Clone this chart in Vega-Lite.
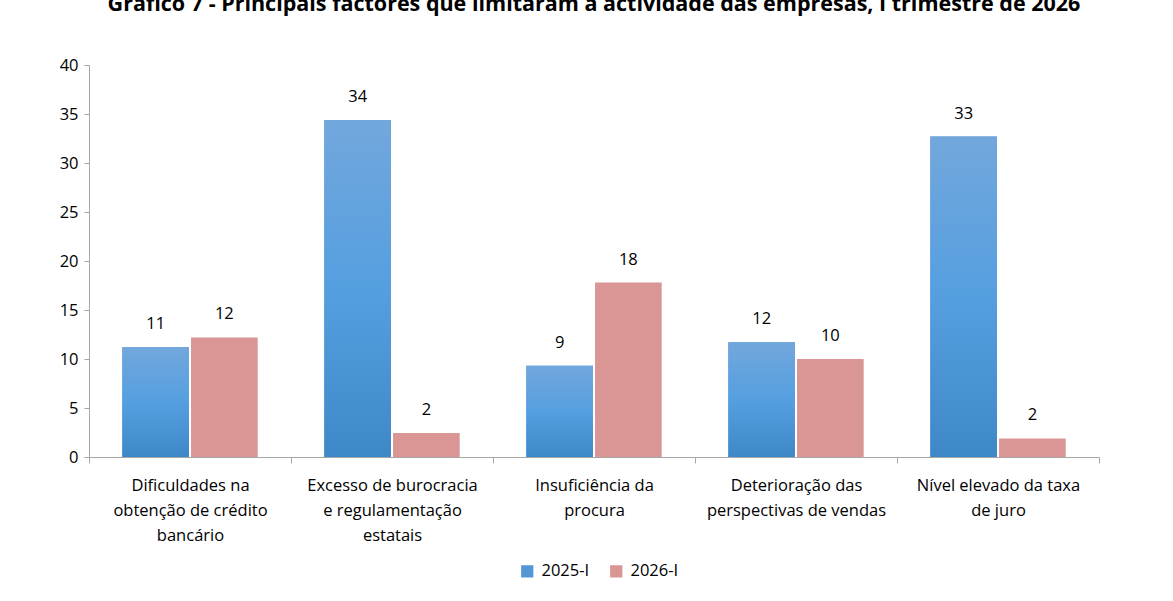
{
  "$schema": "https://vega.github.io/schema/vega-lite/v6.json",
  "autosize": {"type": "none"},
  "width": 1010,
  "height": 392,
  "padding": {"left": 89, "top": 65, "right": 74, "bottom": 144},
  "background": "white",
  "title": {
    "text": "Gráfico 7 - Principais factores que limitaram a actividade das empresas, I trimestre de 2026",
    "font": "Open Sans",
    "fontSize": 21.5,
    "fontWeight": "bold",
    "color": "#000000",
    "anchor": "middle",
    "frame": "group",
    "baseline": "alphabetic",
    "offset": 40,
    "dy": 15
  },
  "data": {
    "values": [
      {"cat": "Dificuldades na obtenção de crédito bancário", "series": "2025-I", "value": 11.2},
      {"cat": "Dificuldades na obtenção de crédito bancário", "series": "2026-I", "value": 12.2},
      {"cat": "Excesso de burocracia e regulamentação estatais", "series": "2025-I", "value": 34.4},
      {"cat": "Excesso de burocracia e regulamentação estatais", "series": "2026-I", "value": 2.45},
      {"cat": "Insuficiência da procura", "series": "2025-I", "value": 9.3},
      {"cat": "Insuficiência da procura", "series": "2026-I", "value": 17.8},
      {"cat": "Deterioração das perspectivas de vendas", "series": "2025-I", "value": 11.7},
      {"cat": "Deterioração das perspectivas de vendas", "series": "2026-I", "value": 10.0},
      {"cat": "Nível elevado da taxa de juro", "series": "2025-I", "value": 32.7},
      {"cat": "Nível elevado da taxa de juro", "series": "2026-I", "value": 1.9}
    ]
  },
  "encoding": {
    "x": {
      "field": "cat",
      "type": "nominal",
      "sort": null,
      "scale": {"paddingInner": 0, "paddingOuter": 0},
      "axis": {
        "title": null,
        "labelAngle": 0,
        "labelFont": "Open Sans",
        "labelFontSize": 16.5,
        "labelColor": "#000000",
        "labelLineHeight": 25,
        "labelPadding": 14,
        "labelLimit": 0,
        "labelBaseline": "top",
        "labelExpr": "{'Dificuldades na obtenção de crédito bancário': ['Dificuldades na', 'obtenção de crédito', 'bancário'], 'Excesso de burocracia e regulamentação estatais': ['Excesso de burocracia', 'e regulamentação', 'estatais'], 'Insuficiência da procura': ['Insuficiência da', 'procura'], 'Deterioração das perspectivas de vendas': ['Deterioração das', 'perspectivas de vendas'], 'Nível elevado da taxa de juro': ['Nível elevado da taxa', 'de juro']}[datum.value]",
        "tickBand": "extent",
        "tickSize": 6,
        "tickColor": "#a6a6a6",
        "domainColor": "#a6a6a6",
        "grid": false
      }
    },
    "xOffset": {
      "field": "series",
      "type": "nominal",
      "scale": {"paddingOuter": 0.485, "paddingInner": 0.03}
    },
    "y": {
      "field": "value",
      "type": "quantitative",
      "scale": {"domain": [0, 40], "nice": false},
      "axis": {
        "title": null,
        "values": [0, 5, 10, 15, 20, 25, 30, 35, 40],
        "labelFont": "Open Sans",
        "labelFontSize": 16.5,
        "labelColor": "#000000",
        "labelPadding": 6,
        "tickSize": 5,
        "tickColor": "#a6a6a6",
        "domainColor": "#a6a6a6",
        "grid": false
      }
    }
  },
  "layer": [
    {
      "mark": {"type": "bar"},
      "encoding": {
        "color": {
          "field": "series",
          "type": "nominal",
          "scale": {"domain": ["2025-I", "2026-I"], "range": ["#5596d6", "#d99694"]},
          "legend": {
            "title": null,
            "orient": "none",
            "direction": "horizontal",
            "legendX": 430,
            "legendY": 498,
            "symbolType": "square",
            "symbolSize": 150,
            "symbolStrokeWidth": 0,
            "labelFont": "Open Sans",
            "labelFontSize": 16.5,
            "labelColor": "#000000",
            "columnPadding": 18,
            "labelOffset": 6
          }
        }
      }
    },
    {
      "transform": [{"filter": "datum.series == '2025-I'"}],
      "mark": {
        "type": "bar",
        "color": {
          "gradient": "linear",
          "x1": 0, "y1": 0, "x2": 0, "y2": 1,
          "stops": [
            {"offset": 0, "color": "#72a7dc"},
            {"offset": 0.5, "color": "#559fe0"},
            {"offset": 1, "color": "#3f88c8"}
          ]
        }
      }
    },
    {
      "mark": {
        "type": "text",
        "dy": -23,
        "baseline": "middle",
        "font": "Open Sans",
        "fontSize": 16.5,
        "color": "#000000"
      },
      "encoding": {
        "text": {"field": "value", "type": "quantitative", "format": ".0f"}
      }
    }
  ],
  "config": {
    "view": {"stroke": null}
  }
}
